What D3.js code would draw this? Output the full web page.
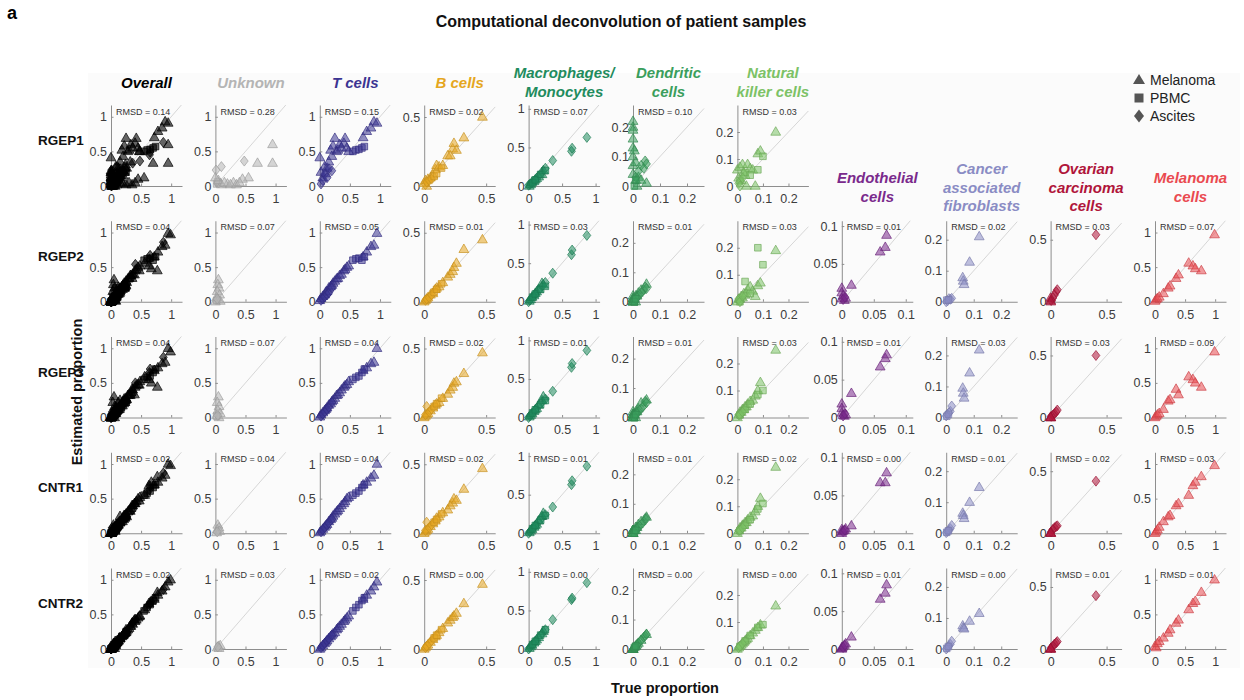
<!DOCTYPE html>
<html><head><meta charset="utf-8">
<script src="https://cdn.jsdelivr.net/npm/d3@7"></script>
<style>
body{margin:0;background:#fff;}
svg{font-family:"Liberation Sans",Arial,Helvetica,sans-serif;}
</style>
</head><body>
<svg id="chart" width="1244" height="700"></svg>
<script>
// ---------------- DATA ----------------
const rowNames = ["RGEP1","RGEP2","RGEP3","CNTR1","CNTR2"];
const columnNames = ["Overall","Unknown","T cells","B cells","Macrophages/Monocytes","Dendritic cells","Natural killer cells","Endothelial cells","Cancer associated fibroblasts","Ovarian carcinoma cells","Melanoma cells"];
const titleLines = [["Overall"],["Unknown"],["T cells"],["B cells"],["Macrophages/","Monocytes"],["Dendritic","cells"],["Natural","killer cells"],["Endothelial","cells"],["Cancer","associated","fibroblasts"],["Ovarian","carcinoma","cells"],["Melanoma","cells"]];
const columnColors = ["#000000","#b4b4b4","#3b3492","#e5a620","#1f8c5e","#3a9e5c","#7cc266","#7a2a8c","#8a8cc4","#b0153a","#ea4a50"];
const xDomainMax = [1.18,1.18,1.18,0.573,1.06,0.263,0.278,0.111,0.258,0.634,1.18];
const yDomainMax = [1.17,1.17,1.17,0.587,1.05,0.275,0.30,0.107,0.261,0.653,1.17];
const tickValues = [[0,0.5,1],[0,0.5,1],[0,0.5,1],[0,0.5],[0,0.5,1],[0,0.1,0.2],[0,0.1,0.2],[0,0.05,0.1],[0,0.1,0.2],[0,0.5],[0,0.5,1]];
const rmsdValues = [
  [0.14,0.28,0.15,0.02,0.07,0.10,0.03,null,null,null,null],
  [0.04,0.07,0.05,0.01,0.03,0.01,0.03,0.01,0.02,0.03,0.07],
  [0.04,0.07,0.04,0.02,0.01,0.01,0.03,0.01,0.03,0.03,0.09],
  [0.02,0.04,0.04,0.02,0.01,0.01,0.02,0.00,0.01,0.02,0.03],
  [0.02,0.03,0.02,0.00,0.00,0.00,0.00,0.01,0.00,0.01,0.01]
];
const legendLabels = ["Melanoma","PBMC","Ascites"];
const legendShapes = ["T","P","A"];

// Sample type codes: T = Melanoma (triangle), P = PBMC (square), A = Ascites (diamond)
// Unknown: points per row [type, true, estimated]
const unknownPoints = [
  [["A",0.01,0.23],["A",0.1,0.28],["A",0.48,0.36],["A",0.05,0.05],["P",0.02,0.03],["P",0.04,0.06],
   ["T",0.95,0.6],["T",0.7,0.33],["T",0.95,0.33],["T",0.55,0.12],["T",0.45,0.1],["T",0.3,0.05],["T",0.2,0.03],
   ["T",0.1,0.02],["T",0.05,0.08],["T",0.0,0.12],["T",0.15,0.05],["T",0.25,0.02],["T",0.35,0.02],["T",0.4,0.05]],
  [["T",0.05,0.32],["T",0.04,0.25],["T",0.06,0.2],["T",0.03,0.15],["T",0.07,0.1],["T",0.02,0.06],["T",0.05,0.03],["T",0.08,0.01],["T",0.0,0.0],["P",0.02,0.02],["A",0.03,0.04]],
  [["T",0.05,0.3],["T",0.03,0.22],["T",0.06,0.16],["T",0.04,0.1],["T",0.08,0.06],["T",0.02,0.03],["T",0.06,0.0],["P",0.02,0.02],["A",0.04,0.03]],
  [["T",0.04,0.12],["T",0.06,0.08],["T",0.03,0.05],["T",0.07,0.03],["T",0.02,0.01],["A",0.03,0.02]],
  [["T",0.05,0.04],["T",0.08,0.05],["T",0.03,0.02],["T",0.06,0.01],["A",0.04,0.03]]
];

const tCellShapes = "TTTTTTTTTTTTTTTTTTTTTTTTPPPPPAAAAAA";
const tCellTrue = [0.0,0.02,0.05,0.08,0.1,0.12,0.15,0.18,0.2,0.22,0.25,0.28,0.3,0.33,0.36,0.4,0.42,0.45,0.48,0.72,0.78,0.85,0.9,0.95, 0.55,0.6,0.65,0.7,0.74, 0.02,0.05,0.08,0.12,0.15,0.2];
const tCellEst = [
  [0.41,0.2,0.12,0.28,0.18,0.26,0.35,0.52,0.43,0.58,0.69,0.5,0.52,0.6,0.55,0.62,0.69,0.55,0.5,0.7,0.79,0.84,0.93,0.91, 0.5,0.52,0.53,0.55,0.57, 0.03,0.08,0.17,0.12,0.25,0.22],
  [0.02,0.05,0.08,0.1,0.14,0.15,0.2,0.22,0.24,0.27,0.3,0.33,0.34,0.38,0.4,0.45,0.47,0.5,0.52,0.65,0.72,0.8,0.82,0.99, 0.6,0.62,0.63,0.6,0.65, 0.02,0.04,0.07,0.1,0.13,0.2],
  [0.01,0.04,0.07,0.1,0.12,0.14,0.18,0.2,0.23,0.25,0.28,0.32,0.33,0.36,0.4,0.44,0.46,0.48,0.52,0.68,0.72,0.78,0.8,1.0, 0.55,0.58,0.6,0.65,0.7, 0.02,0.05,0.08,0.11,0.15,0.22],
  [0.01,0.03,0.06,0.09,0.11,0.13,0.17,0.2,0.22,0.25,0.28,0.31,0.33,0.36,0.4,0.43,0.46,0.5,0.52,0.7,0.74,0.8,0.84,1.0, 0.55,0.58,0.61,0.66,0.7, 0.02,0.05,0.08,0.12,0.15,0.2],
  [0.0,0.02,0.05,0.08,0.1,0.12,0.15,0.18,0.2,0.22,0.24,0.28,0.3,0.33,0.36,0.4,0.42,0.45,0.48,0.72,0.78,0.84,0.9,0.97, 0.55,0.6,0.64,0.7,0.74, 0.02,0.05,0.08,0.12,0.15,0.2]
];

const bCellShapes = "TTTTTTTTTTTTTTTTTAAAAPPP";
const bCellTrue = [0.0,0.01,0.02,0.03,0.05,0.07,0.09,0.1,0.12,0.15,0.19,0.21,0.23,0.24,0.26,0.32,0.47, 0.01,0.02,0.04,0.06, 0.08,0.1,0.14];
const bCellEst = [
  [0.02,0.04,0.0,0.05,0.06,0.08,0.12,0.15,0.14,0.15,0.22,0.22,0.27,0.31,0.26,0.35,0.5, 0.01,0.03,0.04,0.05, 0.07,0.09,0.13],
  [0.0,0.01,0.02,0.03,0.05,0.06,0.09,0.1,0.11,0.14,0.18,0.2,0.22,0.25,0.28,0.38,0.45, 0.01,0.02,0.03,0.05, 0.07,0.09,0.13],
  [0.0,0.01,0.02,0.03,0.05,0.07,0.09,0.1,0.11,0.14,0.17,0.2,0.22,0.25,0.26,0.32,0.47, 0.02,0.08,0.04,0.06, 0.08,0.1,0.14],
  [0.0,0.01,0.02,0.03,0.05,0.07,0.09,0.11,0.12,0.15,0.17,0.2,0.22,0.25,0.24,0.32,0.47, 0.02,0.08,0.04,0.06, 0.08,0.1,0.14],
  [0.0,0.01,0.02,0.03,0.05,0.07,0.09,0.1,0.12,0.15,0.19,0.21,0.23,0.24,0.26,0.33,0.47, 0.01,0.02,0.04,0.06, 0.08,0.1,0.14]
];

const macroShapes = "AAAAAAAAAAATTTTTTTTTPPPP";
const macroTrue = [0.0,0.02,0.05,0.1,0.15,0.2,0.25,0.36,0.64,0.65,0.87, 0.01,0.03,0.05,0.08,0.1,0.12,0.15,0.2,0.22, 0.06,0.1,0.18,0.25];
const macroEst = [
  [0.01,0.02,0.04,0.08,0.13,0.18,0.23,0.33,0.45,0.49,0.63, 0.0,0.02,0.05,0.06,0.08,0.1,0.12,0.15,0.2, 0.04,0.08,0.15,0.2],
  [0.0,0.02,0.05,0.1,0.15,0.2,0.25,0.37,0.61,0.67,0.86, 0.01,0.03,0.06,0.08,0.11,0.13,0.16,0.24,0.22, 0.06,0.1,0.16,0.2],
  [0.0,0.02,0.05,0.1,0.15,0.2,0.24,0.34,0.65,0.7,0.87, 0.01,0.03,0.05,0.08,0.1,0.12,0.16,0.22,0.27, 0.06,0.1,0.17,0.22],
  [0.0,0.02,0.05,0.1,0.15,0.2,0.24,0.34,0.63,0.68,0.87, 0.01,0.03,0.05,0.08,0.1,0.12,0.16,0.22,0.26, 0.06,0.1,0.17,0.23],
  [0.0,0.02,0.05,0.1,0.15,0.2,0.25,0.38,0.64,0.66,0.86, 0.01,0.03,0.05,0.08,0.1,0.12,0.15,0.2,0.23, 0.06,0.1,0.18,0.25]
];

const dendriticShapes = "TTTTTTTTTTTTTTTAAAAAAPP";
const dendriticTrue = [0.0,0.0,0.0,0.0,0.0,0.0,0.0,0.0,0.005,0.01,0.01,0.015,0.02,0.03,0.05, 0.01,0.02,0.03,0.04,0.045,0.05, 0.005,0.01];
const dendriticEst = [
  [0.22,0.2,0.19,0.16,0.13,0.1,0.07,0.04,0.12,0.02,0.08,0.0,0.03,0.02,0.01, 0.03,0.05,0.07,0.06,0.085,0.075, 0.0,0.02],
  [0.0,0.01,0.0,0.01,0.0,0.02,0.0,0.01,0.01,0.02,0.0,0.02,0.03,0.04,0.06, 0.01,0.02,0.03,0.04,0.05,0.045, 0.0,0.01],
  [0.0,0.01,0.0,0.02,0.0,0.01,0.0,0.01,0.01,0.02,0.0,0.02,0.03,0.05,0.06, 0.01,0.02,0.03,0.04,0.055,0.05, 0.0,0.01],
  [0.0,0.01,0.0,0.01,0.0,0.01,0.0,0.01,0.01,0.02,0.01,0.02,0.03,0.04,0.055, 0.01,0.02,0.03,0.04,0.05,0.05, 0.0,0.01],
  [0.0,0.0,0.0,0.0,0.0,0.0,0.0,0.0,0.005,0.01,0.01,0.015,0.02,0.03,0.05, 0.01,0.02,0.03,0.04,0.045,0.05, 0.005,0.01]
];

const nkShapes = "TTTTTTTTTTTTTTTPPPPPAAA";
const nkTrue = [0.0,0.005,0.01,0.015,0.02,0.025,0.03,0.035,0.04,0.05,0.06,0.07,0.08,0.09,0.15, 0.01,0.03,0.05,0.08,0.1, 0.005,0.01,0.02];
const nkEst = [
  [0.06,0.03,0.07,0.02,0.08,0.05,0.04,0.0,0.08,0.065,0.06,0.0,0.12,0.13,0.2, 0.02,0.05,0.04,0.06,0.11, 0.01,0.0,0.03],
  [0.0,0.01,0.01,0.02,0.015,0.03,0.025,0.03,0.045,0.056,0.04,0.02,0.06,0.07,0.19, 0.0,0.075,0.03,0.2,0.137, 0.01,0.0,0.02],
  [0.0,0.01,0.02,0.02,0.03,0.03,0.04,0.04,0.05,0.06,0.065,0.08,0.1,0.13,0.25, 0.01,0.03,0.05,0.085,0.1, 0.01,0.01,0.02],
  [0.0,0.01,0.02,0.02,0.03,0.03,0.04,0.04,0.05,0.06,0.065,0.08,0.1,0.13,0.245, 0.01,0.03,0.05,0.09,0.11, 0.01,0.01,0.02],
  [0.0,0.005,0.01,0.015,0.02,0.025,0.03,0.035,0.04,0.05,0.06,0.07,0.08,0.09,0.16, 0.01,0.03,0.05,0.08,0.09, 0.005,0.01,0.02]
];

const endothelialShapes = "TTTTTTTTTTAA";
const endothelialTrue = [0.0,0.0,0.0,0.002,0.004,0.006,0.015,0.06,0.068,0.07, 0.002,0.005];
const endothelialEst = [
  null,
  [0.018,0.012,0.004,0.008,0.002,0.005,0.022,0.066,0.072,0.088, 0.003,0.006],
  [0.018,0.012,0.006,0.003,0.002,0.004,0.032,0.067,0.078,0.083, 0.002,0.005],
  [0.005,0.002,0.0,0.003,0.004,0.006,0.01,0.067,0.067,0.08, 0.002,0.004],
  [0.002,0.0,0.001,0.003,0.005,0.007,0.016,0.066,0.074,0.085, 0.002,0.005]
];

const cafShapes = "TTTTTAAAAAPP";
const cafTrue = [0.06,0.062,0.065,0.085,0.12, 0.0,0.005,0.01,0.015,0.02, 0.002,0.008];
const cafEst = [
  null,
  [0.078,0.067,0.056,0.128,0.21, 0.0,0.003,0.01,0.008,0.011, 0.005,0.006],
  [0.095,0.079,0.063,0.144,0.218, 0.005,0.01,0.015,0.02,0.037, 0.004,0.01],
  [0.065,0.058,0.048,0.1,0.148, 0.002,0.006,0.01,0.015,0.025, 0.003,0.008],
  [0.075,0.068,0.065,0.09,0.115, 0.0,0.005,0.01,0.015,0.025, 0.002,0.008]
];

const ovarianShapes = "AAAAAATTT";
const ovarianTrue = [0.005,0.02,0.035,0.05,0.06,0.405, 0.0,0.0,0.002];
const ovarianEst = [
  null,
  [0.01,0.03,0.055,0.08,0.097,0.54, 0.008,0.03,0.0],
  [0.01,0.02,0.03,0.045,0.06,0.5, 0.0,0.0,0.0],
  [0.01,0.03,0.045,0.055,0.06,0.42, 0.0,0.005,0.0],
  [0.01,0.02,0.04,0.05,0.06,0.43, 0.0,0.0,0.002]
];

const melanomaShapes = "TTTTTTTTTTTTTT";
const melanomaTrue = [0.0,0.02,0.04,0.07,0.14,0.22,0.25,0.35,0.39,0.56,0.63,0.67,0.77,0.99];
const melanomaEst = [
  null,
  [0.01,0.03,0.05,0.07,0.12,0.2,0.23,0.34,0.39,0.56,0.52,0.48,0.45,0.97],
  [0.0,0.02,0.04,0.06,0.12,0.24,0.26,0.41,0.33,0.59,0.55,0.5,0.44,0.95],
  [0.0,0.02,0.05,0.09,0.17,0.24,0.26,0.4,0.43,0.55,0.69,0.74,0.82,0.98],
  [0.04,0.02,0.08,0.11,0.16,0.23,0.28,0.375,0.42,0.57,0.66,0.69,0.82,1.0]
];

// ---------------- BUILD ----------------
const cellTypeData = [
  null, null,
  {shapes:tCellShapes, truth:tCellTrue, est:tCellEst},
  {shapes:bCellShapes, truth:bCellTrue, est:bCellEst},
  {shapes:macroShapes, truth:macroTrue, est:macroEst},
  {shapes:dendriticShapes, truth:dendriticTrue, est:dendriticEst},
  {shapes:nkShapes, truth:nkTrue, est:nkEst},
  {shapes:endothelialShapes, truth:endothelialTrue, est:endothelialEst},
  {shapes:cafShapes, truth:cafTrue, est:cafEst},
  {shapes:ovarianShapes, truth:ovarianTrue, est:ovarianEst},
  {shapes:melanomaShapes, truth:melanomaTrue, est:melanomaEst}
];
function panelPoints(r, c){
  if (c === 1) return unknownPoints[r].map(p => ({s:p[0], x:p[1], y:p[2]}));
  if (c === 0){
    let all = [];
    for (let k = 1; k < columnNames.length; k++){ const p = panelPoints(r,k); if (p) all = all.concat(p); }
    return all;
  }
  const d = cellTypeData[c];
  const e = d.est[r];
  if (!e) return null;
  return d.truth.map((t,i) => ({s:d.shapes[i], x:t, y:e[i]}));
}

const markerPath = {
  T: "M0,-5.3L4.9,3.2L-4.9,3.2Z",
  P: "M-3.3,-3.3H3.3V3.3H-3.3Z",
  A: "M0,-5L3.9,0L0,5L-3.9,0Z"
};

const svg = d3.select("#chart");
const W = 71, H = 81, colX0 = 111, colStep = 104.4, rowBottom0 = 186, rowStep = 115.75;
const fmt = d3.format("~g");
const axisGrey = "#8e8e8e";

svg.append("rect").attr("x",88).attr("y",73).attr("width",1152).attr("height",595).attr("fill","#fbfbfb");

svg.append("text").attr("x",7).attr("y",19).attr("font-size",18).attr("font-weight","bold").text("a");
svg.append("text").attr("x",621).attr("y",27).attr("text-anchor","middle").attr("font-size",16).attr("font-weight","bold").attr("fill","#111")
  .text("Computational deconvolution of patient samples");

// column titles
columnNames.forEach((name, c) => {
  const px = colX0 + c*colStep;
  const cy = c < 7 ? 82 : 187;
  const lines = titleLines[c];
  lines.forEach((ln, i) => {
    svg.append("text").attr("x", px + 35.5).attr("y", cy + (i - (lines.length-1)/2)*18.5 + 5.5)
      .attr("text-anchor","middle").attr("font-size",15).attr("font-weight","bold").attr("font-style","italic")
      .attr("fill", columnColors[c]).text(ln);
  });
});

// row labels
rowNames.forEach((rn, r) => {
  svg.append("text").attr("x",38).attr("y", rowBottom0 + r*rowStep - 46 + 5)
    .attr("font-size",13.5).attr("font-weight","bold").attr("fill","#111").text(rn);
});

// panels
rowNames.forEach((rn, r) => {
  columnNames.forEach((cn, c) => {
    const pts = panelPoints(r, c);
    if (!pts) return;
    const px = colX0 + c*colStep;
    const bottom = rowBottom0 + r*rowStep;
    const g = svg.append("g").attr("transform", `translate(${px},${bottom - H})`);
    const x = d3.scaleLinear().domain([0, xDomainMax[c]]).range([0, W]);
    const y = d3.scaleLinear().domain([0, yDomainMax[c]]).range([H, 0]);
    const m = Math.min(xDomainMax[c], yDomainMax[c]);
    g.append("line").attr("x1",x(0)).attr("y1",y(0)).attr("x2",x(m)).attr("y2",y(m))
      .attr("stroke","#d6d6d6").attr("stroke-width",1);
    const xa = g.append("g").attr("transform",`translate(0,${H})`)
      .call(d3.axisBottom(x).tickValues(tickValues[c]).tickFormat(fmt).tickSize(-2.5).tickSizeOuter(0).tickPadding(8));
    const ya = g.append("g")
      .call(d3.axisLeft(y).tickValues(tickValues[c]).tickFormat(fmt).tickSize(-2.5).tickSizeOuter(0).tickPadding(4));
    [xa, ya].forEach(a => {
      a.select(".domain").attr("stroke", axisGrey);
      a.selectAll(".tick line").attr("stroke", axisGrey);
      a.selectAll(".tick text").attr("fill","#3c3c3c").attr("font-size",12.5)
        .attr("font-family",'"Liberation Sans",Arial,sans-serif');
    });
    g.append("text").attr("x",5).attr("y",9.5).attr("font-size",9).attr("fill","#333")
      .text("RMSD = " + rmsdValues[r][c].toFixed(2));
    const col = columnColors[c];
    const stroke = c === 0 ? "#000" : d3.color(col).darker(0.4).formatHex();
    g.selectAll("path.mk").data(pts).join("path").attr("class","mk")
      .attr("d", d => markerPath[d.s])
      .attr("transform", d => `translate(${x(d.x)},${y(d.y)})`)
      .attr("fill", col).attr("fill-opacity", c === 0 ? 0.6 : 0.55)
      .attr("stroke", stroke).attr("stroke-opacity", 0.85).attr("stroke-width", 0.8);
  });
});

// axis titles
svg.append("text").attr("transform","translate(82,392) rotate(-90)").attr("text-anchor","middle")
  .attr("font-size",14.5).attr("font-weight","bold").attr("fill","#111").text("Estimated proportion");
svg.append("text").attr("x",665).attr("y",693).attr("text-anchor","middle")
  .attr("font-size",14.5).attr("font-weight","bold").attr("fill","#111").text("True proportion");

// legend
const legendBig = {
  T: "M0,-6L6,4L-6,4Z",
  P: "M-4.5,-4.5H4.5V4.5H-4.5Z",
  A: "M0,-6.5L5,0L0,6.5L-5,0Z"
};
legendLabels.forEach((lab, i) => {
  const ly = 80 + i*18;
  svg.append("path").attr("d", legendBig[legendShapes[i]]).attr("transform",`translate(1139,${ly})`).attr("fill","#555");
  svg.append("text").attr("x",1150).attr("y",ly+5).attr("font-size",14).attr("fill","#222").text(lab);
});
</script>
</body></html>
